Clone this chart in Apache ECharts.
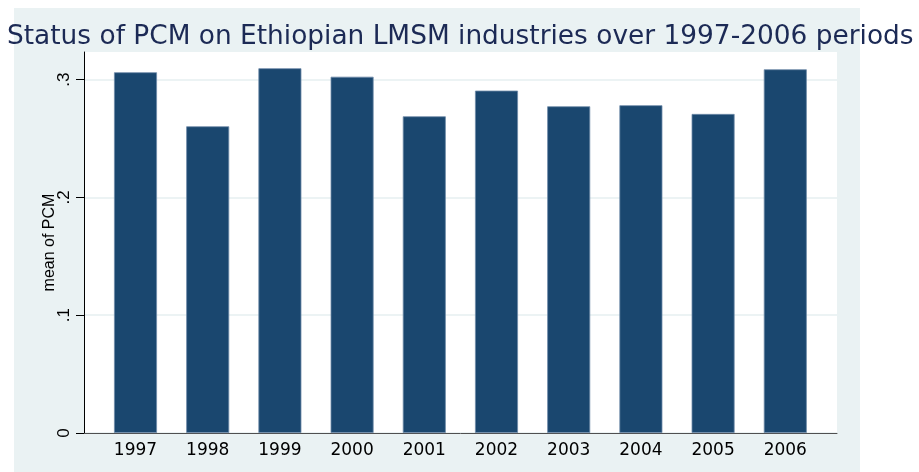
<!DOCTYPE html>
<html>
<head>
<meta charset="utf-8">
<script src="https://cdn.jsdelivr.net/npm/echarts@6/dist/echarts.min.js"></script>
<style>
html,body{margin:0;padding:0;background:#fff;}
#chart{width:919px;height:472px;}
</style>
</head>
<body>
<div id="chart"></div>
<script>
const titleText = 'Status of PCM on Ethiopian LMSM industries over 1997-2006 periods';
const yAxisTitle = 'mean of PCM';
const years = ['1997','1998','1999','2000','2001','2002','2003','2004','2005','2006'];
const meanPCM = [0.3063, 0.2604, 0.3097, 0.3025, 0.2689, 0.2907, 0.2774, 0.2783, 0.2709, 0.3088];
const yTicks = [0, 0.1, 0.2, 0.3];
const yMax = 0.3235;

const chart = echarts.init(document.getElementById('chart'));
const fmt = v => (Math.abs(v) < 1e-9 ? '0' : '.' + Math.round(v * 10));

chart.setOption({
  backgroundColor: '#ffffff',
  animation: false,
  graphic: [{
    type: 'rect', z: -10, silent: true,
    shape: {x: 14, y: 8, width: 846, height: 464},
    style: {fill: '#eaf2f3'}
  }],
  title: {
    text: titleText,
    left: 7, top: 24, padding: 0,
    textStyle: {fontFamily: 'DejaVu Sans', fontSize: 26.4, fontWeight: 'normal', color: '#1c2a55'}
  },
  grid: [
    {left: 84, top: 52, width: 753, height: 381, show: true, backgroundColor: '#ffffff', borderWidth: 0},
    {left: 99.4, top: 52, width: 722, height: 381}
  ],
  xAxis: [
    {gridIndex: 0, type: 'value', min: 0, max: 1, position: 'bottom',
     axisLine: {show: true, lineStyle: {color: '#505050', width: 1}},
     axisTick: {show: false}, axisLabel: {show: false}, splitLine: {show: false}},
    {gridIndex: 1, type: 'category', data: years, boundaryGap: true,
     axisLine: {show: false}, axisTick: {show: false}, splitLine: {show: false},
     axisLabel: {fontFamily: 'DejaVu Sans', fontSize: 17, color: '#000', margin: 9}}
  ],
  yAxis: [
    {gridIndex: 0, type: 'value', min: 0, max: yMax, interval: 0.1,
     name: yAxisTitle, nameLocation: 'middle', nameGap: 26, nameMoveOverlap: false,
     nameTextStyle: {fontFamily: 'Liberation Sans', fontSize: 16, color: '#000'},
     axisLine: {show: true, lineStyle: {color: '#000', width: 1}},
     axisTick: {show: true, length: 8, inside: false, customValues: yTicks, lineStyle: {color: '#000'}},
     axisLabel: {customValues: yTicks, formatter: fmt, rotate: 90, margin: 11,
                 fontFamily: 'Liberation Sans', fontSize: 17, color: '#000'},
     splitLine: {show: true, lineStyle: {color: '#e6eff1', width: 1.6}}},
    {gridIndex: 1, type: 'value', min: 0, max: yMax, show: false, splitLine: {show: false}}
  ],
  series: [{
    type: 'bar', xAxisIndex: 1, yAxisIndex: 1,
    data: meanPCM, barWidth: 43,
    itemStyle: {color: '#1a476f', borderColor: '#6f8aa8', borderWidth: 0.8}
  }]
});
</script>
</body>
</html>
